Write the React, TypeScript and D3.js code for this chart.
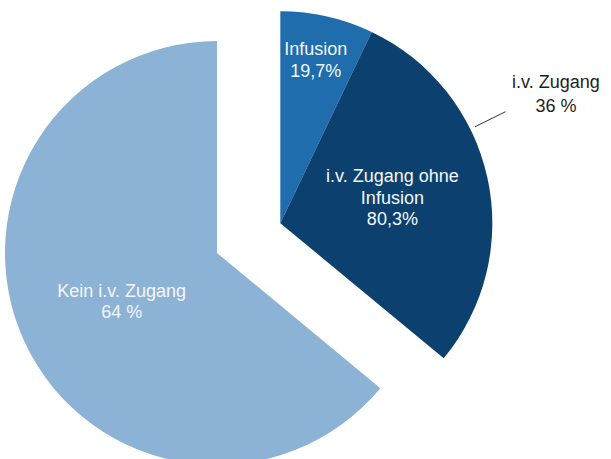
import React from "react";
import * as d3 from "d3";

const mainLabels = ["i.v. Zugang", "Kein i.v. Zugang"];
const mainValues = [36, 64];
const mainValueText = ["36 %", "64 %"];
const subLabelLines = [["Infusion"], ["i.v. Zugang ohne", "Infusion"]];
const subValues = [19.7, 80.3];
const subValueText = ["19,7%", "80,3%"];

const W = 611;
const H = 459;
const R = 212;
const cx = 217;
const cy = 253;
const explode = 70;
const FONT = "'Liberation Sans', Arial, Helvetica, sans-serif";
const colLight = "#8cb2d5";
const colMid = "#1f6dac";
const colDark = "#0c416f";

export default function App() {
  const pie = d3.pie<number>().sort(null).value((d) => d);
  const arcs = pie(mainValues);
  const arc = d3.arc<any>().innerRadius(0).outerRadius(R);

  const ivArc = arcs[0];
  const keinArc = arcs[1];
  const mid = (ivArc.startAngle + ivArc.endAngle) / 2;
  const dx = explode * Math.sin(mid);
  const dy = -explode * Math.cos(mid);

  const subPie = d3
    .pie<number>()
    .sort(null)
    .value((d) => d)
    .startAngle(ivArc.startAngle)
    .endAngle(ivArc.endAngle);
  const subArcs = subPie(subValues);

  const polar = (a: number, r: number) => [r * Math.sin(a), -r * Math.cos(a)];

  const infMid = (subArcs[0].startAngle + subArcs[0].endAngle) / 2;
  const ohneMid = (subArcs[1].startAngle + subArcs[1].endAngle) / 2;
  const keinMid = (keinArc.startAngle + keinArc.endAngle) / 2;

  const [infX, infY] = polar(infMid - 0.015, 172);
  const [ohneX, ohneY] = polar(ohneMid - 0.133, 119.3);
  const [keinX, keinY] = polar(keinMid + 0.007, 105);
  const [outX, outY] = polar(mid - 0.016, 307);
  const leaderA = mid - 0.02;
  const [l1x, l1y] = polar(leaderA, R * 1.025);
  const [l2x, l2y] = polar(leaderA, R * 1.185);

  const textStyle = { fontFamily: FONT, fontSize: 18 } as const;

  const block = (
    lines: string[],
    x: number,
    y: number,
    step: number,
    fill: string
  ) =>
    lines.map((t, i) => (
      <text
        key={i}
        x={x}
        y={y + i * step}
        textAnchor="middle"
        fill={fill}
        style={textStyle}
      >
        {t}
      </text>
    ));

  return (
    <svg
      width={W}
      height={H}
      style={{ position: "absolute", left: 0, top: 0, background: "#fff" }}
    >
      <g transform={`translate(${cx},${cy})`}>
        <path d={arc(keinArc) || ""} fill={colLight} />
        {block([mainLabels[1], mainValueText[1]], keinX, keinY, 20.5, "#f4f7fb")}
      </g>
      <g transform={`translate(${cx + dx},${cy + dy})`}>
        <path d={arc(subArcs[0]) || ""} fill={colMid} />
        <path d={arc(subArcs[1]) || ""} fill={colDark} />
        {block([...subLabelLines[0], subValueText[0]], infX, infY, 22, "#f4f7fb")}
        {block([...subLabelLines[1], subValueText[1]], ohneX, ohneY, 21.5, "#f4f7fb")}
        <line x1={l1x} y1={l1y} x2={l2x} y2={l2y} stroke="#333" strokeWidth={1} />
        {block([mainLabels[0], mainValueText[0]], outX, outY, 23.5, "#1e1e1e")}
      </g>
    </svg>
  );
}
